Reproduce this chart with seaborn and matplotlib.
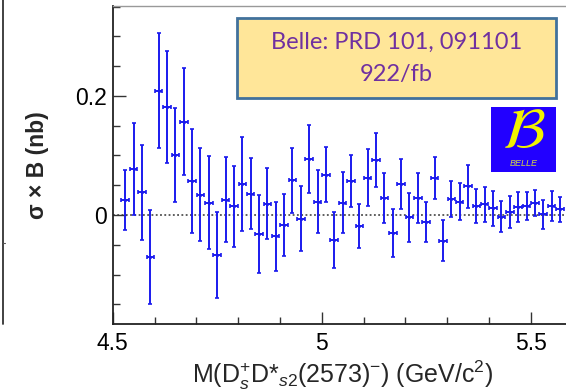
import numpy as np
import pandas as pd
import matplotlib
matplotlib.use("Agg")
import matplotlib.pyplot as plt
from matplotlib.lines import Line2D
from matplotlib.patches import Rectangle
from matplotlib.ticker import MultipleLocator
import seaborn as sns

# ---- data ----
mass = [4.53 + 0.02 * i for i in range(53)]
sigma_b = [0.025, 0.077, 0.038, -0.070, 0.209, 0.181, 0.101, 0.157, 0.057, 0.034,
           0.021, -0.067, 0.026, 0.015, 0.052, 0.036, -0.032, 0.019, -0.036, -0.016,
           0.058, -0.006, 0.094, 0.022, 0.068, -0.042, 0.021, 0.057, -0.019, 0.063,
           0.092, 0.029, -0.030, 0.052, -0.004, 0.028, -0.012, 0.062, -0.043, 0.027,
           0.022, 0.048, 0.015, 0.018, 0.011, -0.003, 0.005, 0.014, 0.015, 0.020,
           0.001, 0.015, 0.010]
sigma_err = [0.050, 0.077, 0.080, 0.079, 0.097, 0.094, 0.079, 0.090, 0.088, 0.078,
             0.078, 0.072, 0.072, 0.068, 0.079, 0.060, 0.065, 0.060, 0.058, 0.052,
             0.054, 0.055, 0.057, 0.053, 0.046, 0.047, 0.051, 0.043, 0.037, 0.048,
             0.045, 0.042, 0.040, 0.042, 0.041, 0.042, 0.034, 0.035, 0.034, 0.030,
             0.031, 0.036, 0.029, 0.029, 0.029, 0.026, 0.027, 0.025, 0.023, 0.022,
             0.025, 0.025, 0.021]
bin_half = 0.009
x_ticks = [4.5, 5.0, 5.5]
x_tick_labels = ["4.5", "5", "5.5"]
y_ticks = [0.0, 0.2]
y_tick_labels = ["0", "0.2"]

df = pd.DataFrame({"mass": mass, "sigma": sigma_b, "err": sigma_err})

sns.set_theme(style="white")
plt.rcParams["font.family"] = ["Liberation Sans", "DejaVu Sans"]
plt.rcParams["mathtext.fontset"] = "custom"
plt.rcParams["mathtext.rm"] = "Liberation Sans"
plt.rcParams["mathtext.it"] = "Liberation Sans:italic"
plt.rcParams["mathtext.bf"] = "Liberation Sans:bold"

W, H = 566, 390
fig = plt.figure(figsize=(W / 100, H / 100), dpi=100)
fig.patch.set_facecolor("white")

left_px, right_px, top_px, bottom_px = 112.7, 572.5, 6.0, 324.0
ax = fig.add_axes([left_px / W, 1 - bottom_px / H,
                   (right_px - left_px) / W, (bottom_px - top_px) / H])
ax.set_facecolor("white")

blue = "#1a1aee"
ax.errorbar(df["mass"], df["sigma"], yerr=df["err"], xerr=bin_half,
            fmt="none", ecolor=blue, elinewidth=1.4, capsize=1.3,
            capthick=1.2, zorder=3)
sns.scatterplot(data=df, x="mass", y="sigma", ax=ax, color=blue, s=5,
                marker="o", edgecolor=blue, linewidth=0, zorder=4, legend=False)

ax.axhline(0, color="#333333", lw=1.1, ls=(0, (1.2, 1.6)), zorder=2)

ax.set_xlim(4.5, 5.6)
ax.set_ylim(-0.183, 0.351)
ax.set_xticks(x_ticks)
ax.set_xticklabels(x_tick_labels)
ax.set_yticks(y_ticks)
ax.set_yticklabels(y_tick_labels)
ax.xaxis.set_minor_locator(MultipleLocator(0.1))
ax.yaxis.set_minor_locator(MultipleLocator(0.05))
ax.tick_params(axis="both", which="major", direction="in", length=9,
               width=1.0, color="#333333", labelsize=16.5, pad=6,
               labelcolor="black")
ax.tick_params(axis="y", which="major", pad=4)
ax.tick_params(axis="both", which="minor", direction="in", length=5,
               width=1.0, color="#333333")
ax.tick_params(axis="y", which="both", left=True, right=False)
ax.tick_params(axis="x", which="both", bottom=True, top=False)

for s in ["left", "bottom"]:
    ax.spines[s].set_color("#222222")
    ax.spines[s].set_linewidth(1.3)
ax.spines["top"].set_color("#999999")
ax.spines["top"].set_linewidth(1.0)
ax.spines["right"].set_visible(False)

ax.set_xlabel(r"M(D$_s^{+}$D*$_{s2}$(2573)$^{-}$) (GeV/c$^{2}$)",
              fontsize=18, labelpad=2)
ax.set_ylabel("σ × B (nb)", fontsize=16.5, fontweight="bold", labelpad=19)

# annotation box
bx0, bx1, by0, by1 = 237, 556, 18, 98
fig.add_artist(Rectangle((bx0 / W, 1 - by1 / H), (bx1 - bx0) / W, (by1 - by0) / H,
                         transform=fig.transFigure, facecolor="#FFE699",
                         edgecolor="#41719C", lw=2.0, zorder=10))
fig.text((bx0 + bx1) / 2 / W, 1 - 42 / H, "Belle: PRD 101, 091101",
         ha="center", va="center", fontsize=17, color="#7030A0",
         family=["Lato", "DejaVu Sans"], zorder=11)
fig.text((bx0 + bx1) / 2 / W, 1 - 74 / H, "922/fb",
         ha="center", va="center", fontsize=17, color="#7030A0",
         family=["Lato", "DejaVu Sans"], zorder=11)

# Belle logo
lx0, lx1, ly0, ly1 = 491, 556, 107, 172
fig.add_artist(Rectangle((lx0 / W, 1 - ly1 / H), (lx1 - lx0) / W, (ly1 - ly0) / H,
                         transform=fig.transFigure, facecolor="#2200ff",
                         edgecolor="none", zorder=10))
fig.text((lx0 + lx1) / 2 / W, 1 - 133 / H, r"$\mathcal{B}$", ha="center",
         va="center", fontsize=42, color="#f2f200", math_fontfamily="stix",
         zorder=11)
fig.text((lx0 + lx1) / 2 / W, 1 - 163 / H, "BELLE", ha="center", va="center",
         fontsize=6.5, color="#d8d840", style="italic", zorder=11)

# remnant of neighbouring panel at the left edge
fig.add_artist(Line2D([2.5 / W, 2.5 / W], [1 - 324 / H, 1.0],
                      transform=fig.transFigure, color="#333333", lw=1.3))
fig.add_artist(Line2D([2.5 / W, 4.5 / W], [1 - 243 / H, 1 - 243 / H],
                      transform=fig.transFigure, color="#555555", lw=0.8))

fig.savefig("out.png", dpi=100, facecolor="white")
